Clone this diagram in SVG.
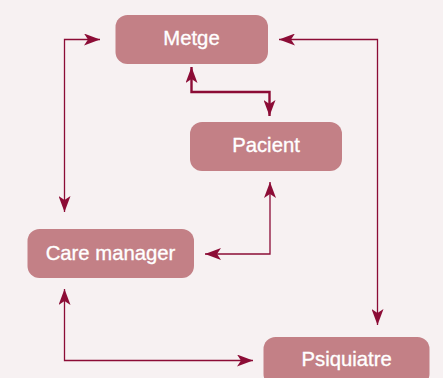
<svg xmlns="http://www.w3.org/2000/svg" width="443" height="378" viewBox="0 0 443 378">
<style>
.box{fill:#c38086;}
.lbl{fill:#ffffff;stroke:#ffffff;stroke-width:0.35;font-family:"Liberation Sans",Arial,sans-serif;font-size:20.3px;text-anchor:middle;}
.ln{fill:none;stroke:#8c0c36;stroke-width:1.3;}
.thick{stroke-width:2.4;}
</style>
<defs>
<marker id="ah" viewBox="0 0 16 12" refX="16" refY="6" markerWidth="16" markerHeight="12" markerUnits="userSpaceOnUse" orient="auto-start-reverse">
<path d="M0,0 L16,6 L0,12 L4,6 Z" fill="#8c0c36"/>
</marker>
</defs>
<rect width="443" height="378" fill="#f7f1f2"/>
<g id="connectors">
<path class="ln" d="M100,39.5 H64.5 V212" marker-start="url(#ah)" marker-end="url(#ah)"/>
<path class="ln" d="M279,39.5 H377.5 V325" marker-start="url(#ah)" marker-end="url(#ah)"/>
<path class="ln thick" d="M191.5,67 V92 H269.5 V116" marker-start="url(#ah)" marker-end="url(#ah)"/>
<path class="ln" d="M270,182 V254 H205" marker-start="url(#ah)" marker-end="url(#ah)"/>
<path class="ln" d="M64.5,289 V360.5 H253" marker-start="url(#ah)" marker-end="url(#ah)"/>
</g>
<g id="metge">
<rect class="box" x="115.5" y="15" width="152.5" height="49" rx="12"/>
<text class="lbl" x="191.5" y="45">Metge</text>
</g>
<g id="pacient">
<rect class="box" x="190" y="122" width="152" height="49" rx="12"/>
<text class="lbl" x="266" y="151.7">Pacient</text>
</g>
<g id="care-manager">
<rect class="box" x="27.5" y="229" width="166.5" height="49" rx="12"/>
<text class="lbl" x="110.5" y="260">Care manager</text>
</g>
<g id="psiquiatre">
<rect class="box" x="263.5" y="337" width="166" height="49" rx="12"/>
<text class="lbl" x="346.7" y="366">Psiquiatre</text>
</g>
</svg>
